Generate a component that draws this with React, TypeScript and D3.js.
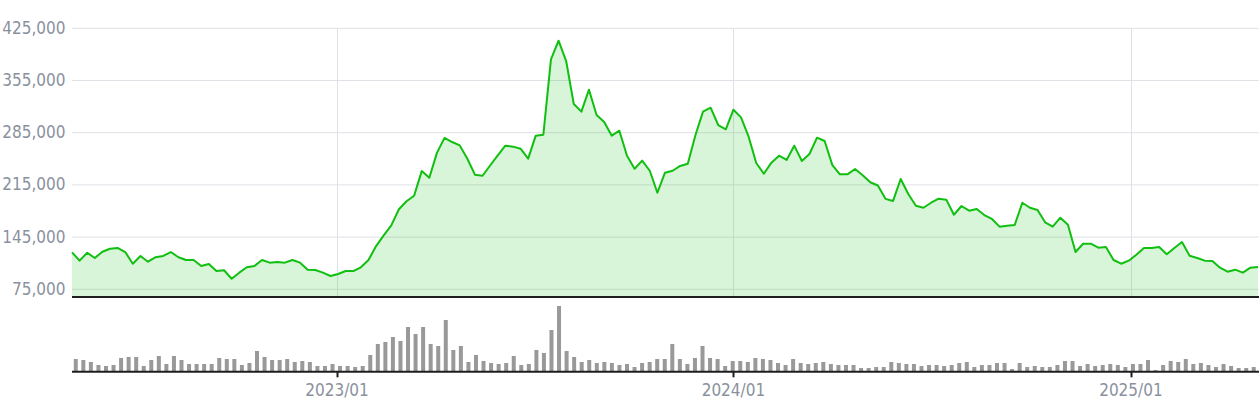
import React from "react";
import * as d3 from "d3";

// Weekly closing prices (JPY), oldest first
const prices: number[] = [
  124600, 113400, 124000, 117000, 125400, 129400, 130400, 125000, 109300, 119700,
  112000, 118000, 119700, 125000, 118000, 114300, 114300, 106200, 109000, 99500,
  100500, 89200, 97300, 104500, 106200, 114300, 110700, 111600, 110700, 114300,
  110700, 101300, 100900, 97300, 92800, 95500, 99500, 99500, 104500, 114300,
  133000, 147400, 160800, 182300, 193000, 200500, 233500, 224500, 258000, 278000,
  272500, 268000, 250000, 228700, 227300, 241000, 254500, 267600, 266300, 263600,
  250200, 281000, 282300, 383400, 408400, 381100, 323500, 313200, 342700, 308700,
  299400, 281000, 287700, 254200, 236700, 247500, 234000, 204500, 231400, 234000,
  240400, 243400, 281500, 313200, 318500, 295300, 289600, 315800, 305600, 279600,
  244400, 230000, 244800, 254200, 248400, 267600, 247100, 256400, 278300, 273900,
  241800, 229200, 229200, 236300, 228000, 218500, 214200, 196300, 193500, 222900,
  202700, 187100, 184400, 191100, 196500, 195200, 175000, 186700, 180400, 182700,
  174600, 169300, 159000, 160300, 161200, 191100, 184400, 181300, 164800, 159000,
  171000, 161600, 125000, 136100, 136100, 130800, 131700, 114300, 109300, 113400,
  121400, 130400, 130400, 131700, 121900, 130400, 138400, 120100, 117000, 113400,
  113000, 104000, 98600, 101300, 97300, 104000, 104900,
];

// Weekly volume (thousand shares)
const volumes: number[] = [
  12, 11, 9, 6, 5, 6, 13, 14, 14, 5,
  11, 15, 7, 15, 11, 7, 7, 7, 7, 13,
  12, 12, 6, 8, 20, 14, 11, 11, 12, 9,
  10, 9, 5, 5, 7, 5, 5, 4, 5, 16,
  27, 29, 34, 30, 44, 37, 44, 27, 25, 51,
  21, 25, 9, 16, 10, 8, 7, 8, 15, 6,
  7, 21, 18, 41, 65, 20, 14, 9, 11, 8,
  9, 8, 6, 7, 4, 8, 9, 12, 12, 27,
  12, 7, 13, 25, 13, 12, 5, 10, 10, 9,
  13, 12, 11, 8, 6, 12, 8, 7, 8, 9,
  7, 6, 6, 6, 3, 3, 4, 4, 9, 8,
  7, 7, 5, 6, 6, 5, 6, 8, 9, 4,
  6, 6, 8, 8, 2, 8, 4, 5, 4, 4,
  6, 10, 10, 5, 7, 5, 6, 7, 6, 4,
  7, 7, 11, 1, 6, 10, 9, 12, 7, 8,
  6, 4, 7, 5, 3, 3, 4,
];

const firstWeek = new Date(2022, 4, 2);
const dates: Date[] = prices.map((_, i) => d3.timeDay.offset(firstWeek, i * 7));

const yTicks: number[] = [75000, 145000, 215000, 285000, 355000, 425000];
const xTicks: Date[] = [new Date(2023, 0, 1), new Date(2024, 0, 1), new Date(2025, 0, 1)];

const W = 1259;
const H = 400;
const left = 72;
const right = 1258;
const priceTop = 28.3;
const priceBottom = 297;
const volBottom = 371.8;

const FONT = "'DejaVu Sans Condensed', 'DejaVu Sans', sans-serif";
const LABEL = "#8a919e";

export default function App() {
  const x = d3.scaleTime().domain([dates[0], dates[dates.length - 1]]).range([left, right]);
  const y = d3.scaleLinear().domain([64675, 425000]).range([priceBottom, priceTop]);
  const band = d3
    .scaleBand<number>()
    .domain(prices.map((_, i) => i))
    .range([left, left + 7.551 * prices.length])
    .paddingInner(0.47)
    .paddingOuter(0.235);
  const v = d3.scaleLinear().domain([0, 70]).range([volBottom - 0.8, volBottom - 70.8]);

  const line = d3
    .line<number>()
    .x((_, i) => x(dates[i]))
    .y((d) => y(d));
  const area = d3
    .area<number>()
    .x((_, i) => x(dates[i]))
    .y0(priceBottom)
    .y1((d) => y(d));

  const fmt = d3.format(",");
  const tfmt = d3.timeFormat("%Y/%m");

  return (
    <svg
      width={W}
      height={H}
      style={{ position: "absolute", left: 0, top: 0, background: "#fff" }}
    >
      {/* horizontal grid */}
      {yTicks.map((t) => (
        <line key={"g" + t} x1={left} x2={W} y1={y(t)} y2={y(t)} stroke="#e0e1e6" strokeWidth={1} />
      ))}
      {/* vertical grid */}
      {xTicks.map((t) => (
        <line
          key={"vg" + t.getTime()}
          x1={Math.round(x(t)) + 0.5}
          x2={Math.round(x(t)) + 0.5}
          y1={priceTop}
          y2={priceBottom}
          stroke="#e0e1e6"
          strokeWidth={1}
        />
      ))}
      <path d={area(prices) || ""} fill="rgba(0,190,0,0.15)" stroke="none" />
      <path d={line(prices) || ""} fill="none" stroke="#10bf10" strokeWidth={2} strokeLinejoin="round" />
      <line x1={left} x2={W} y1={priceBottom} y2={priceBottom} stroke="#1e1e1e" strokeWidth={2} />

      {/* y labels */}
      {yTicks.map((t) => (
        <text
          key={"yl" + t}
          x={65.5}
          y={y(t) + 5.5}
          textAnchor="end"
          fontFamily={FONT}
          fontSize={17}
          fill={LABEL}
        >
          {fmt(t)}
        </text>
      ))}

      {/* volume bars */}
      {volumes.map((d, i) => (
        <rect
          key={"b" + i}
          x={band(i)}
          width={band.bandwidth()}
          y={v(d)}
          height={v(0) - v(d)}
          fill="#999999"
        />
      ))}
      <line x1={left} x2={W} y1={volBottom} y2={volBottom} stroke="#1e1e1e" strokeWidth={2} />
      {xTicks.map((t) => (
        <g key={"xt" + t.getTime()}>
          <line
            x1={Math.round(x(t)) + 0.5}
            x2={Math.round(x(t)) + 0.5}
            y1={volBottom}
            y2={volBottom + 5.5}
            stroke="#1e1e1e"
            strokeWidth={2}
          />
          <text
            x={x(t)}
            y={396}
            textAnchor="middle"
            fontFamily={FONT}
            fontSize={17}
            fill={LABEL}
          >
            {tfmt(t)}
          </text>
        </g>
      ))}
    </svg>
  );
}
